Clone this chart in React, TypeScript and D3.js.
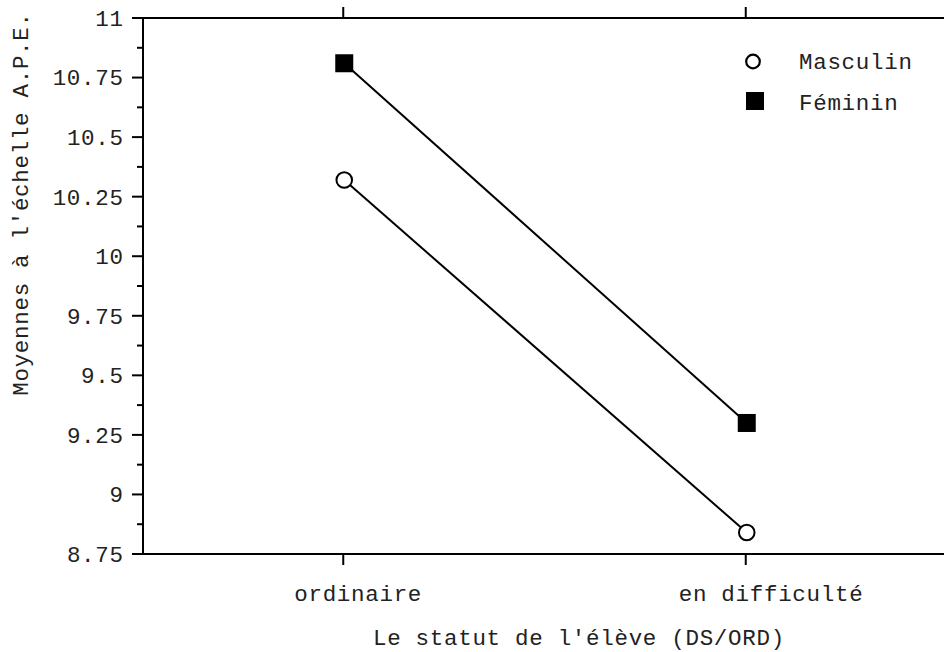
import React from "react";
import * as d3 from "d3";

const categories = ["ordinaire", "en difficulté"];
const masculin = [10.32, 8.84];
const feminin = [10.81, 9.3];
const yTicks = [8.75, 9, 9.25, 9.5, 9.75, 10, 10.25, 10.5, 10.75, 11];
const yTickLabels = ["8.75", "9", "9.25", "9.5", "9.75", "10", "10.25", "10.5", "10.75", "11"];
const yMinorTicks = [8.875, 9.125, 9.375, 9.625, 9.875, 10.125, 10.375, 10.625, 10.875];
const seriesNames = ["Masculin", "Féminin"];
const catLabelDx = [-50, -68];

const W = 944;
const H = 652;
const left = 143;
const right = 948;
const top = 18;
const bottom = 554;
const FONT = "'Liberation Mono', 'Courier New', monospace";
const FS = 22.5;
const LS = 0.7;

export default function App() {
  const x = d3.scaleLinear().domain([0.5, 2.5]).range([left, right]);
  const y = d3.scaleLinear().domain([8.75, 11]).range([bottom, top]);
  const line = d3
    .line<number>()
    .x((_, i) => x(i + 1))
    .y((d) => y(d));

  const textStyle: React.CSSProperties = {
    fontFamily: FONT,
    fontSize: FS,
    letterSpacing: LS,
    fill: "#222",
  };

  return (
    <svg width={W} height={H} style={{ position: "absolute", left: 0, top: 0, background: "#fff" }}>
      <rect x={0} y={0} width={W} height={H} fill="#fff" />
      {/* axes */}
      <line x1={left} x2={right} y1={top} y2={top} stroke="#000" strokeWidth={2} />
      <line x1={left} x2={right} y1={bottom} y2={bottom} stroke="#000" strokeWidth={2} />
      <line x1={left} x2={left} y1={top - 1} y2={bottom + 1} stroke="#000" strokeWidth={2} />
      {yTicks.map((t, i) => (
        <g key={"yt" + i}>
          <line x1={left - 11} x2={left} y1={y(t)} y2={y(t)} stroke="#000" strokeWidth={2} />
          <text
            x={123 + LS}
            y={y(t)}
            dy="0.35em"
            textAnchor="end"
            style={textStyle}
          >
            {yTickLabels[i]}
          </text>
        </g>
      ))}
      {yMinorTicks.map((t, i) => (
        <line key={"ym" + i} x1={left - 6} x2={left} y1={y(t)} y2={y(t)} stroke="#000" strokeWidth={2} />
      ))}
      {categories.map((c, i) => (
        <g key={"xc" + i}>
          <line x1={x(i + 1) - 1} x2={x(i + 1) - 1} y1={bottom} y2={bottom + 11} stroke="#000" strokeWidth={2} />
          <line x1={x(i + 1) - 1} x2={x(i + 1) - 1} y1={top} y2={top - 11} stroke="#000" strokeWidth={2} />
          <text x={x(i + 1) + catLabelDx[i]} y={593} dy="0.35em" textAnchor="start" style={textStyle}>
            {c}
          </text>
        </g>
      ))}
      {/* axis titles */}
      <text x={373} y={637} dy="0.35em" textAnchor="start" style={textStyle}>
        Le statut de l'élève (DS/ORD)
      </text>
      <text
        transform={`translate(20, 204) rotate(-90)`}
        textAnchor="middle"
        dy="0.35em"
        style={textStyle}
      >
        Moyennes à l'échelle A.P.E.
      </text>
      {/* series lines */}
      <path d={line(masculin) || ""} fill="none" stroke="#000" strokeWidth={2} />
      <path d={line(feminin) || ""} fill="none" stroke="#000" strokeWidth={2} />
      {masculin.map((v, i) => (
        <circle key={"m" + i} cx={x(i + 1)} cy={y(v)} r={7.8} fill="#fff" stroke="#000" strokeWidth={2} />
      ))}
      {feminin.map((v, i) => (
        <rect key={"f" + i} x={x(i + 1) - 9} y={y(v) - 9} width={18} height={18} fill="#000" />
      ))}
      {/* legend */}
      <circle cx={753} cy={61.5} r={6.8} fill="#fff" stroke="#000" strokeWidth={2.2} />
      <rect x={746} y={92} width={18} height={18} fill="#000" />
      <text x={799} y={61} dy="0.35em" style={textStyle}>
        {seriesNames[0]}
      </text>
      <text x={799} y={102} dy="0.35em" style={textStyle}>
        {seriesNames[1]}
      </text>
    </svg>
  );
}
